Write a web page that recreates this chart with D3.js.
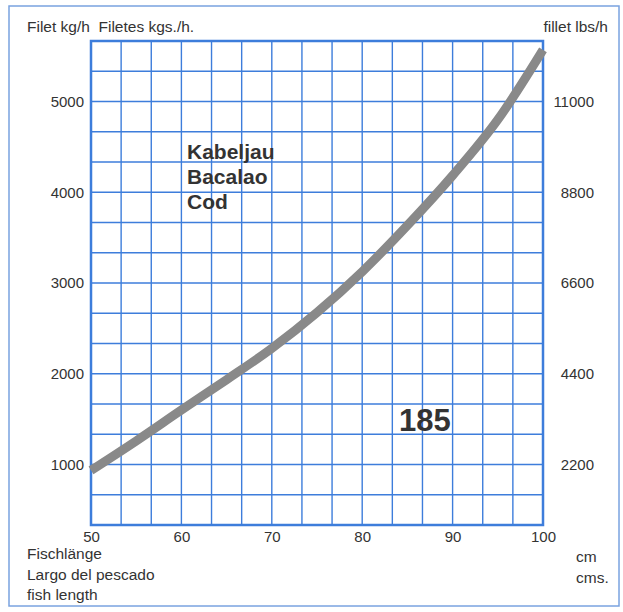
<!DOCTYPE html>
<html>
<head>
<meta charset="utf-8">
<script src="https://cdn.jsdelivr.net/npm/d3@7"></script>
<style>
  body { margin: 0; background: #fff; }
  svg text { font-family: "Liberation Sans", Arial, sans-serif; fill: #333; white-space: pre; }
  .tick text { font-size: 15px; }
  .axis .domain { display: none; }
  .grid line { stroke: #3d7ddb; stroke-width: 1.4; }
</style>
</head>
<body>
<svg id="chart" width="623" height="612"></svg>
<script>
// Fillet output vs fish length (cod, machine 185)
const lengthCm = [50, 55, 60, 65, 70, 75, 80, 85, 90, 95, 100];
const filletKg = [935, 1260, 1600, 1935, 2280, 2675, 3125, 3635, 4185, 4800, 5570];

const xTicks = [50, 60, 70, 80, 90, 100];
const kgTicks = [1000, 2000, 3000, 4000, 5000];
const lbsTicks = [2200, 4400, 6600, 8800, 11000];
const kgToLbs = 2.2;

const speciesNames = ['Kabeljau', 'Bacalao', 'Cod'];
const lengthTitles = ['Fischlänge', 'Largo del pescado', 'fish length'];
const unitTitles = ['cm', 'cms.'];

const plot = { left: 91, right: 543, top: 41, bottom: 525 };

const svg = d3.select('#chart');

// outer frame
svg.append('rect')
    .attr('x', 9).attr('y', 6)
    .attr('width', 610).attr('height', 600)
    .attr('fill', 'none')
    .attr('stroke', '#7aa3e0')
    .attr('stroke-width', 1.5);

const x = d3.scaleLinear().domain([50, 100]).range([plot.left, plot.right]);
const y = d3.scaleLinear().domain([1000 / 3, 17000 / 3]).range([plot.bottom, plot.top]);

// grid: 15 columns, 16 rows
const grid = svg.append('g').attr('class', 'grid');
grid.selectAll('.v')
    .data(d3.range(1, 15).map(i => 50 + i * 10 / 3))
    .enter().append('line')
    .attr('x1', d => x(d)).attr('x2', d => x(d))
    .attr('y1', plot.top).attr('y2', plot.bottom);
grid.selectAll('.h')
    .data(d3.range(1, 16).map(i => 1000 / 3 + i * 1000 / 3))
    .enter().append('line')
    .attr('x1', plot.left).attr('x2', plot.right)
    .attr('y1', d => y(d)).attr('y2', d => y(d));

svg.append('rect')
    .attr('x', plot.left).attr('y', plot.top)
    .attr('width', plot.right - plot.left)
    .attr('height', plot.bottom - plot.top)
    .attr('fill', 'none')
    .attr('stroke', '#3d7ddb')
    .attr('stroke-width', 2.5);

// curve
const line = d3.line()
    .x((d, i) => x(lengthCm[i]))
    .y(d => y(d))
    .curve(d3.curveMonotoneX);

svg.append('path')
    .datum(filletKg)
    .attr('d', line)
    .attr('fill', 'none')
    .attr('stroke', '#898989')
    .attr('stroke-width', 9)
    .attr('stroke-linecap', 'butt');

// axes (labels only)
svg.append('g')
    .attr('class', 'axis')
    .attr('transform', `translate(${plot.left - 7},0)`)
    .call(d3.axisLeft(y).tickValues(kgTicks).tickSize(0).tickPadding(0).tickFormat(d3.format('d')));

const yLbs = d3.scaleLinear()
    .domain(y.domain().map(v => v * kgToLbs))
    .range(y.range());
svg.append('g')
    .attr('class', 'axis')
    .attr('transform', `translate(594,0)`)
    .call(d3.axisLeft(yLbs).tickValues(lbsTicks).tickSize(0).tickPadding(0).tickFormat(d3.format('d')));

svg.append('g')
    .attr('class', 'axis')
    .attr('transform', `translate(0,${plot.bottom + 4})`)
    .call(d3.axisBottom(x).tickValues(xTicks).tickSize(0).tickPadding(2).tickFormat(d3.format('d')));

// titles
svg.append('text').attr('x', 27).attr('y', 32).style('font-size', '15.5px')
    .text('Filet kg/h  Filetes kgs./h.');
svg.append('text').attr('x', 608).attr('y', 32).attr('text-anchor', 'end')
    .style('font-size', '15.5px').text('fillet lbs/h');

svg.selectAll('.len-title')
    .data(lengthTitles)
    .enter().append('text')
    .attr('x', 27)
    .attr('y', (d, i) => 559 + i * 20.5)
    .style('font-size', '15.5px')
    .text(d => d);

svg.selectAll('.unit-title')
    .data(unitTitles)
    .enter().append('text')
    .attr('x', 576)
    .attr('y', (d, i) => 562 + i * 20.5)
    .style('font-size', '15.5px')
    .text(d => d);

svg.selectAll('.species')
    .data(speciesNames)
    .enter().append('text')
    .attr('x', 187)
    .attr('y', (d, i) => 159 + i * 25)
    .style('font-size', '21px')
    .style('font-weight', 'bold')
    .text(d => d);

svg.append('text')
    .attr('x', 399).attr('y', 431)
    .style('font-size', '31px')
    .style('font-weight', 'bold')
    .text('185');
</script>
</body>
</html>
